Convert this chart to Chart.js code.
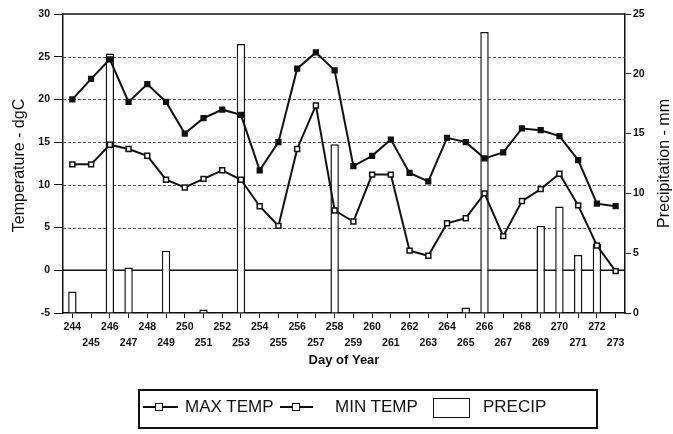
<!DOCTYPE html>
<html>
<head>
<meta charset="utf-8">
<title>Temperature and precipitation, days 244-273</title>
<script src="https://cdn.jsdelivr.net/npm/chart.js@4.4.0/dist/chart.umd.min.js"></script>
<style>
  html, body { margin: 0; padding: 0; background: #fff; }
  #wrap { position: relative; width: 673px; height: 434px; }
  #chart { display: block; }

  /* legend box under the chart */
  .legend { position: absolute; left: 138px; top: 389px; width: 456px; height: 36px;
            border: 2px solid #111; font: 17px 'Liberation Sans', Arial, sans-serif; color: #111; }
  .lg-text { position: absolute; top: 0; height: 32px; line-height: 32px; white-space: nowrap; }
  .lg-line { position: absolute; top: 15px; height: 2px; background: #111; }
  .lg-mark { position: absolute; top: 12px; width: 6px; height: 6px; border: 1.5px solid #111; background: #fff; }
  .lg-box  { position: absolute; left: 293px; top: 7px; width: 35px; height: 18px; border: 1.5px solid #111; }
</style>
</head>
<body>
<div id="wrap">
  <canvas id="chart" width="673" height="434"></canvas>
  <div class="legend">
    <div class="lg-line" style="left:3px;width:35px"></div>
    <div class="lg-mark" style="left:15px"></div>
    <span class="lg-text" style="left:45px">MAX TEMP</span>
    <div class="lg-line" style="left:140px;width:33px"></div>
    <div class="lg-mark" style="left:152px"></div>
    <span class="lg-text" style="left:195px">MIN TEMP</span>
    <div class="lg-box"></div>
    <span class="lg-text" style="left:343px">PRECIP</span>
  </div>
</div>

<script>
/* ── Data ─────────────────────────────────────────────────────── */

const DAYS = [
  244, 245, 246, 247, 248, 249, 250, 251, 252, 253,
  254, 255, 256, 257, 258, 259, 260, 261, 262, 263,
  264, 265, 266, 267, 268, 269, 270, 271, 272, 273,
];

const MAX_TEMP = [
  20.0, 22.4, 24.7, 19.7, 21.8, 19.7, 16.0, 17.8, 18.8, 18.2,
  11.7, 15.0, 23.6, 25.5, 23.4, 12.2, 13.4, 15.3, 11.4, 10.4,
  15.5, 15.0, 13.1, 13.8, 16.6, 16.4, 15.7, 12.9, 7.8, 7.5,
];

const MIN_TEMP = [
  12.4, 12.4, 14.7, 14.2, 13.4, 10.6, 9.7, 10.7, 11.7, 10.6,
  7.5, 5.2, 14.2, 19.3, 7.0, 5.7, 11.2, 11.2, 2.3, 1.7,
  5.5, 6.1, 9.0, 4.0, 8.1, 9.5, 11.3, 7.6, 2.9, -0.1,
];

const PRECIP = [
  1.8, null, 21.7, 3.8, null, 5.2, null, 0.3, null, 22.5,
  null, null, null, null, 14.1, null, null, null, null, null,
  null, 0.45, 23.5, null, null, 7.3, 8.9, 4.85, 5.8, null,
];

const TEMP_DOTTED = [5, 10, 15, 20, 25];   /* dotted grid lines */
const TEMP_SOLID  = [0, 30];               /* solid reference lines */

/* ── Helpers ─────────────────────────────────────────────────── */

const INK = '#111';
const TICK_FONT = { family: "'Liberation Sans', Arial, sans-serif", size: 10.5, weight: 'bold' };

const frame = {
  id: 'frame',
  beforeDatasetsDraw(chart) {
    const { ctx, chartArea: a, scales: { y } } = chart;
    ctx.save();
    ctx.strokeStyle = '#555';
    ctx.lineWidth = 1;
    ctx.setLineDash([3, 2]);
    TEMP_DOTTED.forEach(v => {
      const py = Math.round(y.getPixelForValue(v)) + 0.5;
      ctx.beginPath(); ctx.moveTo(a.left, py); ctx.lineTo(a.right, py); ctx.stroke();
    });
    ctx.setLineDash([]);
    ctx.strokeStyle = INK;
    ctx.lineWidth = 1.5;
    TEMP_SOLID.forEach(v => {
      const py = y.getPixelForValue(v);
      ctx.beginPath(); ctx.moveTo(a.left, py); ctx.lineTo(a.right, py); ctx.stroke();
    });
    ctx.restore();
  },
  afterDraw(chart) {
    const { ctx, chartArea: a } = chart;
    const midY = (a.top + a.bottom) / 2;
    ctx.save();
    ctx.fillStyle = INK;
    ctx.textAlign = 'center';
    ctx.textBaseline = 'middle';
    ctx.font = "16px 'Liberation Sans', Arial, sans-serif";

    ctx.save();
    ctx.translate(20, midY + 2);
    ctx.rotate(-Math.PI / 2);
    ctx.fillText('Temperature - dgC', 0, 0);
    ctx.restore();

    ctx.save();
    ctx.translate(665, midY);
    ctx.rotate(-Math.PI / 2);
    ctx.fillText('Precipitation - mm', 0, 0);
    ctx.restore();

    ctx.font = "bold 13px 'Liberation Sans', Arial, sans-serif";
    ctx.fillText('Day of Year', (a.left + a.right) / 2, 360);
    ctx.restore();
  },
};

/* ── Chart ───────────────────────────────────────────────────── */

new Chart(document.getElementById('chart'), {
  data: {
    labels: DAYS,
    datasets: [
      {
        type: 'line', label: 'MAX TEMP', data: MAX_TEMP, yAxisID: 'y', order: 0,
        borderColor: INK, borderWidth: 2, tension: 0,
        pointStyle: 'rect', pointRadius: 3, pointBackgroundColor: INK, pointBorderColor: INK,
      },
      {
        type: 'line', label: 'MIN TEMP', data: MIN_TEMP, yAxisID: 'y', order: 0,
        borderColor: INK, borderWidth: 2, tension: 0,
        pointStyle: 'rect', pointRadius: 3.5, pointBackgroundColor: '#fff', pointBorderColor: INK,
        pointBorderWidth: 1.5,
      },
      {
        type: 'bar', label: 'PRECIP', data: PRECIP, yAxisID: 'y1', order: 1,
        backgroundColor: '#fff', borderColor: INK, borderWidth: 1.5,
        barPercentage: 0.45, categoryPercentage: 1.0,
      },
    ],
  },
  options: {
    responsive: false,
    animation: false,
    devicePixelRatio: 1,
    layout: { padding: { top: 14, left: 0, right: 0, bottom: 0 } },
    plugins: { legend: { display: false }, tooltip: { enabled: false } },
    scales: {
      x: {
        type: 'category',
        offset: true,
        afterFit: s => { s.height = 121; },
        grid: { drawOnChartArea: false, offset: false, tickLength: 5, color: INK, tickColor: INK, lineWidth: 1 },
        border: { display: true, color: INK, width: 1.5 },
        ticks: {
          autoSkip: false, maxRotation: 0, padding: 1, color: INK,
          font: { ...TICK_FONT, lineHeight: '16px' },
          callback: (v, i) => (i % 2 === 0 ? [String(DAYS[i]), ''] : ['', String(DAYS[i])]),
        },
      },
      y: {
        position: 'left',
        min: -5, max: 30,
        afterFit: s => { s.width = 63; },
        grid: { drawOnChartArea: false, tickLength: 9, tickColor: INK, color: INK },
        border: { display: true, color: INK, width: 1.5 },
        ticks: { stepSize: 5, padding: 4, color: INK, font: TICK_FONT },
      },
      y1: {
        position: 'right',
        min: 0, max: 25,
        afterFit: s => { s.width = 48; },
        grid: { drawOnChartArea: false, tickLength: 6, tickColor: INK, color: INK },
        border: { display: true, color: INK, width: 1.5 },
        ticks: { stepSize: 5, padding: 2, color: INK, font: TICK_FONT },
      },
    },
  },
  plugins: [frame],
});
</script>
</body>
</html>
